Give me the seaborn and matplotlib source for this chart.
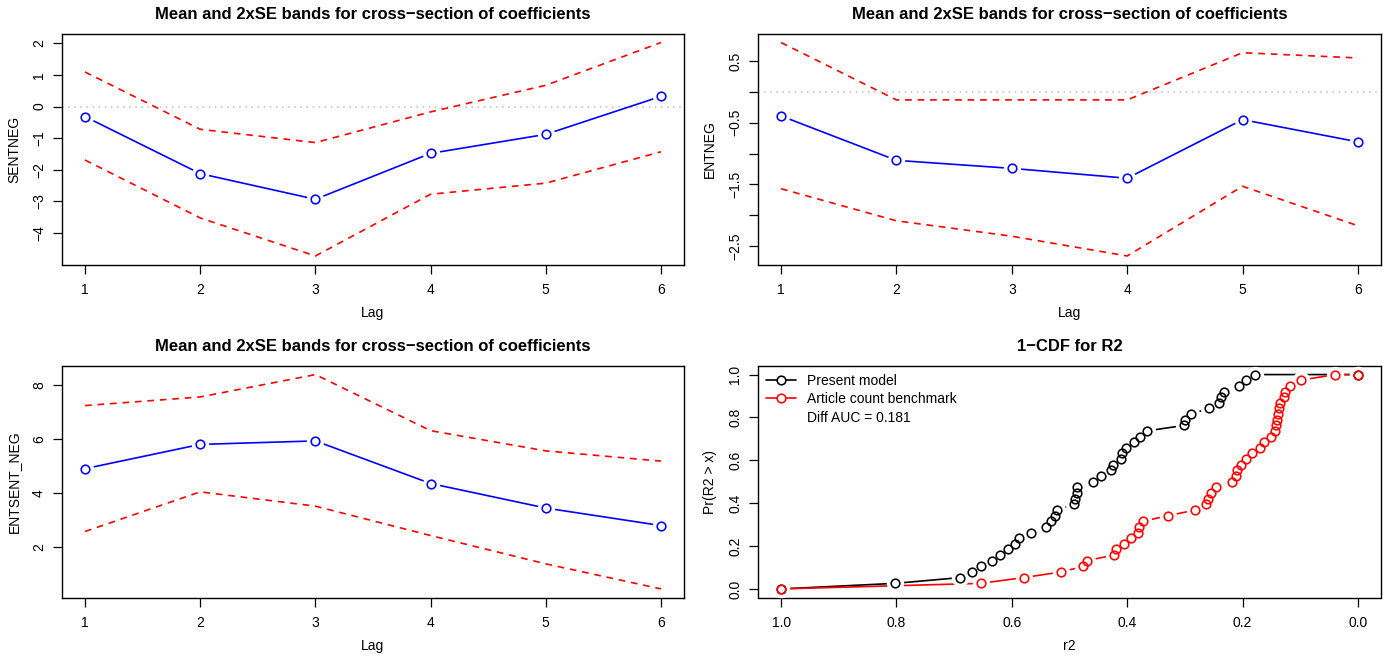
import numpy as np
import pandas as pd
import matplotlib
matplotlib.use("Agg")
import matplotlib.pyplot as plt
from matplotlib.lines import Line2D
import seaborn as sns

# ---------------- data ----------------
lags = [1, 2, 3, 4, 5, 6]

sentneg_mean = [-0.32, -2.12, -2.93, -1.48, -0.88, 0.32]
sentneg_upper = [1.09, -0.72, -1.14, -0.17, 0.67, 2.02]
sentneg_lower = [-1.69, -3.52, -4.72, -2.77, -2.42, -1.43]

entneg_mean = [-0.39, -1.11, -1.24, -1.40, -0.45, -0.81]
entneg_upper = [0.80, -0.13, -0.13, -0.13, 0.635, 0.55]
entneg_lower = [-1.57, -2.09, -2.34, -2.66, -1.53, -2.17]

entsent_mean = [4.91, 5.81, 5.94, 4.36, 3.45, 2.80]
entsent_upper = [7.25, 7.57, 8.40, 6.32, 5.57, 5.19]
entsent_lower = [2.58, 4.05, 3.52, 2.43, 1.38, 0.45]

cdf_prob = [0.0, 0.026, 0.053, 0.079, 0.105, 0.132, 0.158, 0.184, 0.211, 0.237,
            0.263, 0.289, 0.316, 0.342, 0.368, 0.395, 0.421, 0.447, 0.474, 0.5,
            0.526, 0.553, 0.579, 0.605, 0.632, 0.658, 0.684, 0.711, 0.737, 0.763,
            0.789, 0.816, 0.842, 0.868, 0.895, 0.921, 0.947, 0.974, 1.0, 1.0]
present_r2 = [1.0, 0.802, 0.689, 0.669, 0.653, 0.635, 0.620, 0.607, 0.595, 0.588,
              0.566, 0.540, 0.532, 0.526, 0.521, 0.493, 0.490, 0.487, 0.487, 0.459,
              0.445, 0.428, 0.425, 0.411, 0.409, 0.402, 0.388, 0.377, 0.366, 0.301,
              0.300, 0.289, 0.259, 0.240, 0.237, 0.233, 0.207, 0.194, 0.178, 0.0]
bench_r2 = [1.0, 0.654, 0.579, 0.515, 0.476, 0.470, 0.423, 0.419, 0.406, 0.393,
            0.381, 0.380, 0.372, 0.329, 0.282, 0.263, 0.260, 0.254, 0.246, 0.218,
            0.212, 0.209, 0.202, 0.194, 0.183, 0.170, 0.163, 0.150, 0.144, 0.142,
            0.141, 0.139, 0.137, 0.135, 0.128, 0.127, 0.118, 0.099, 0.039, 0.0]

coef_titles = "Mean and 2xSE bands for cross\u2212section of coefficients"
cdf_title = "1\u2212CDF for R2"
legend_labels = ["Present model", "Article count benchmark", "Diff AUC = 0.181"]

# ---------------- style ----------------
sns.set_style("ticks")
plt.rcParams["font.family"] = ["Liberation Sans", "DejaVu Sans"]
plt.rcParams["axes.unicode_minus"] = True
plt.rcParams["axes.linewidth"] = 1.0
plt.rcParams["axes.edgecolor"] = "black"
plt.rcParams["text.color"] = "black"
plt.rcParams["axes.labelcolor"] = "black"
plt.rcParams["axes.titlecolor"] = "black"
plt.rcParams["xtick.color"] = "black"
plt.rcParams["ytick.color"] = "black"

W, H = 1387, 657
fig = plt.figure(figsize=(W / 100, H / 100), dpi=100)
fig.patch.set_facecolor("white")

def rect(l, r, t, b):
    return [l / W, (H - b) / H, (r - l) / W, (b - t) / H]

ax_tl = fig.add_axes(rect(62, 684, 34, 264.5))
ax_tr = fig.add_axes(rect(758, 1381, 34, 264.5))
ax_bl = fig.add_axes(rect(62, 684, 366, 597.5))
ax_br = fig.add_axes(rect(758, 1381, 366, 597.5))

MS = 6.2
GAP_MS = 12.5
LW = 1.2
TFS = 12
FS = 10


def type_b(ax, x, y, color, ls="-"):
    df = pd.DataFrame({"x": x, "y": y})
    sns.lineplot(data=df, x="x", y="y", ax=ax, color=color, lw=LW, ls=ls,
                 estimator=None, sort=False, zorder=2)
    ax.plot(df["x"], df["y"], ls="none", marker="o", ms=GAP_MS, mfc="white",
            mec="none", zorder=3)
    ax.plot(df["x"], df["y"], ls="none", marker="o", ms=MS, mfc="none",
            mec=color, mew=1.15, zorder=4)


def style_axis(ax):
    for s in ax.spines.values():
        s.set_visible(True)
        s.set_color("black")
        s.set_linewidth(1.0)
    ax.tick_params(axis="both", direction="out", length=6.5, width=0.9,
                   colors="black", labelcolor="black", labelsize=FS, pad=6.5)
    ax.tick_params(axis="y", labelrotation=90, pad=5)
    for lab in ax.get_yticklabels():
        lab.set_va("center")
    ax.set_facecolor("white")


def coef_panel(ax, mean, upper, lower, ylab, yticks, yticklabels, zero=True):
    dfb = pd.DataFrame({"lag": lags, "upper": upper, "lower": lower})
    sns.lineplot(data=dfb, x="lag", y="upper", ax=ax, color="red", lw=LW,
                 estimator=None, sort=False)
    sns.lineplot(data=dfb, x="lag", y="lower", ax=ax, color="red", lw=LW,
                 estimator=None, sort=False)
    for ln in ax.get_lines():
        ln.set_dashes((4, 3.5))
    type_b(ax, lags, mean, "blue")
    if zero:
        ax.axhline(0, color="#bebebe", lw=1.1, ls=(0, (1, 3)), zorder=1)
    lo = min(lower)
    hi = max(upper)
    rng = hi - lo
    ax.set_ylim(lo - 0.04 * rng, hi + 0.04 * rng)
    ax.set_xlim(0.8, 6.2)
    ax.set_xticks(lags)
    ax.set_xticklabels([str(l) for l in lags])
    ax.set_yticks(yticks)
    ax.set_yticklabels(yticklabels)
    ax.set_xlabel("Lag", fontsize=FS, labelpad=7, color="black")
    ax.set_ylabel(ylab, fontsize=FS, labelpad=8, color="black")
    ax.set_title(coef_titles, fontsize=TFS, fontweight="bold", pad=11,
                 color="black")
    style_axis(ax)


def m(v):
    return str(v).replace("-", "\u2212")

coef_panel(ax_tl, sentneg_mean, sentneg_upper, sentneg_lower, "SENTNEG",
           [-4, -3, -2, -1, 0, 1, 2], [m(v) for v in [-4, -3, -2, -1, 0, 1, 2]])
coef_panel(ax_tr, entneg_mean, entneg_upper, entneg_lower, "ENTNEG",
           [-2.5, -2, -1.5, -1, -0.5, 0, 0.5],
           [m(-2.5), "", m(-1.5), "", m(-0.5), "", "0.5"])
coef_panel(ax_bl, entsent_mean, entsent_upper, entsent_lower, "ENTSENT_NEG",
           [2, 4, 6, 8], ["2", "4", "6", "8"], zero=False)

# ---------------- CDF panel ----------------
type_b(ax_br, present_r2, cdf_prob, "black")
type_b(ax_br, bench_r2, cdf_prob, "red")
ax_br.set_xlim(1.04, -0.04)
ax_br.set_ylim(-0.04, 1.04)
ax_br.set_xticks([1.0, 0.8, 0.6, 0.4, 0.2, 0.0])
ax_br.set_xticklabels(["1.0", "0.8", "0.6", "0.4", "0.2", "0.0"])
ax_br.set_yticks([0.0, 0.2, 0.4, 0.6, 0.8, 1.0])
ax_br.set_yticklabels(["0.0", "0.2", "0.4", "0.6", "0.8", "1.0"])
ax_br.set_xlabel("r2", fontsize=FS, labelpad=7, color="black")
ax_br.set_ylabel("Pr(R2 > x)", fontsize=FS, labelpad=8, color="black")
ax_br.set_title(cdf_title, fontsize=TFS, fontweight="bold", pad=11,
                color="black")
style_axis(ax_br)

handles = [
    Line2D([0], [0], color="black", lw=LW, marker="o", ms=MS, mfc="white",
           mec="black", mew=1.15),
    Line2D([0], [0], color="red", lw=LW, marker="o", ms=MS, mfc="white",
           mec="red", mew=1.15),
    Line2D([0], [0], color="none", lw=0),
]
leg = ax_br.legend(handles, legend_labels, loc="upper left", frameon=False,
                   fontsize=FS, handlelength=2.2, handletextpad=0.8,
                   labelspacing=0.32, borderaxespad=0.25, borderpad=0.3)
for t in leg.get_texts():
    t.set_color("black")

fig.savefig("out.png", dpi=100, facecolor="white")
